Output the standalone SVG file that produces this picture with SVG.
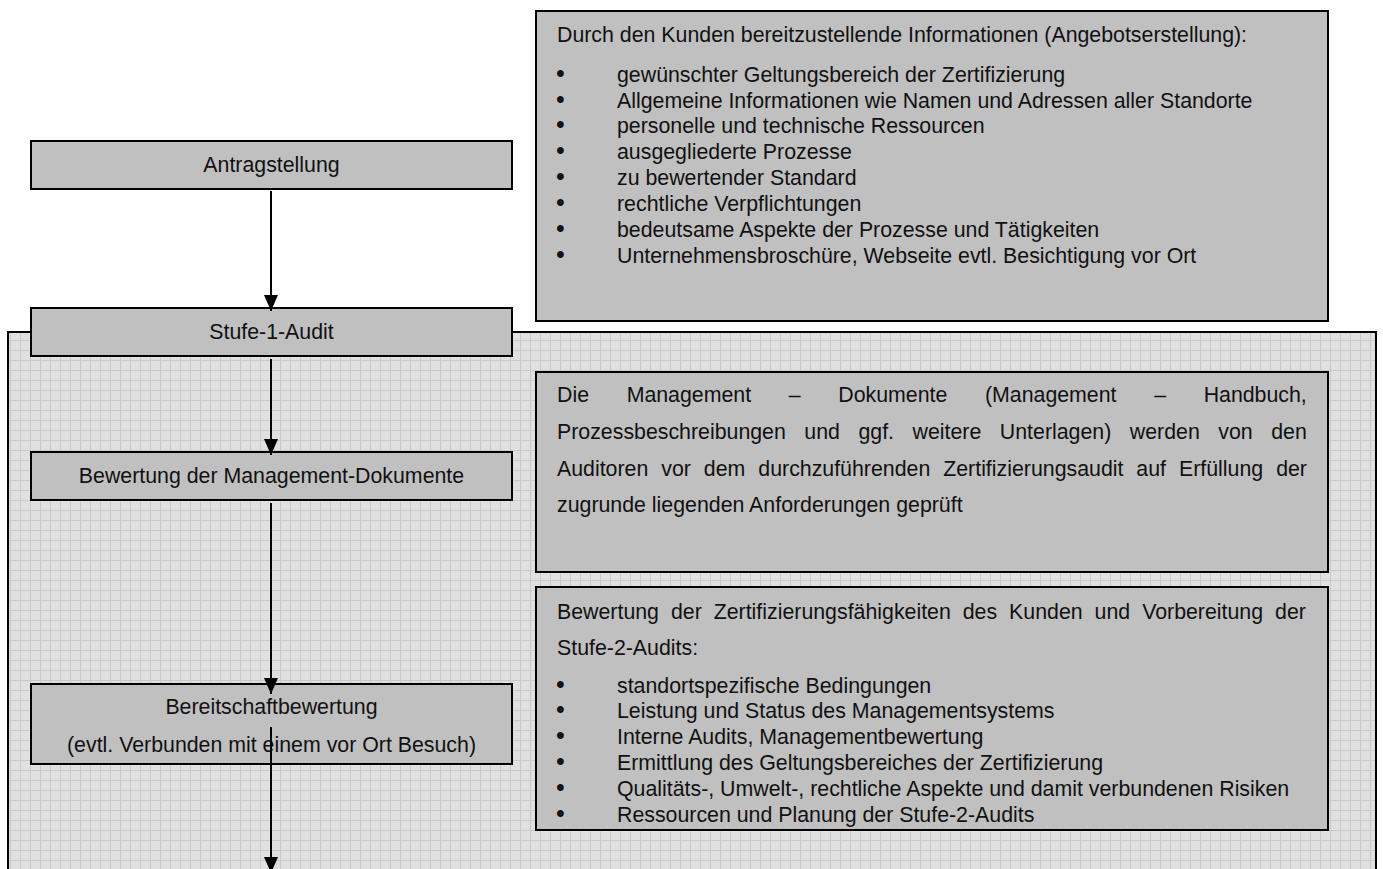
<svg xmlns="http://www.w3.org/2000/svg" width="1383" height="869" viewBox="0 0 1383 869">
<defs>
<style>
.box{fill:#c0c0c0;stroke:#000;stroke-width:2}
.t{font-family:"Liberation Sans",Arial,Helvetica,sans-serif;font-size:21.33px;fill:#111}
.c{text-anchor:middle}
.b{font-size:25px}
.conn{stroke:#000;stroke-width:2;fill:none;marker-end:url(#ah)}
</style>
<pattern id="grid" width="10" height="10" patternUnits="userSpaceOnUse">
<rect width="10" height="10" fill="#e0e0e0"/>
<path d="M0,0.5H10M0.5,0V10" stroke="#c9c9c9" stroke-width="1"/>
</pattern>
<marker id="ah" viewBox="0 0 16 14" refX="16" refY="7" markerWidth="16" markerHeight="14" markerUnits="userSpaceOnUse" orient="auto">
<path d="M0,0L16,7L0,14z" fill="#000"/>
</marker>
</defs>
<rect width="1383" height="869" fill="#fff"/>

<g id="panel">
<rect x="8" y="332" width="1368" height="560" fill="url(#grid)" stroke="#000" stroke-width="2"/>
</g>

<g id="info-kunde">
<rect class="box" x="536" y="11" width="792" height="310"/>
<text class="t" x="557" y="41.7">Durch den Kunden bereitzustellende Informationen (Angebotserstellung):</text>
<text class="t" y="81.7"><tspan class="b" x="556">•</tspan><tspan x="617">gewünschter Geltungsbereich der Zertifizierung</tspan></text>
<text class="t" y="107.5"><tspan class="b" x="556">•</tspan><tspan x="617">Allgemeine Informationen wie Namen und Adressen aller Standorte</tspan></text>
<text class="t" y="133.4"><tspan class="b" x="556">•</tspan><tspan x="617">personelle und technische Ressourcen</tspan></text>
<text class="t" y="159.2"><tspan class="b" x="556">•</tspan><tspan x="617">ausgegliederte Prozesse</tspan></text>
<text class="t" y="185.1"><tspan class="b" x="556">•</tspan><tspan x="617">zu bewertender Standard</tspan></text>
<text class="t" y="210.9"><tspan class="b" x="556">•</tspan><tspan x="617">rechtliche Verpflichtungen</tspan></text>
<text class="t" y="236.8"><tspan class="b" x="556">•</tspan><tspan x="617">bedeutsame Aspekte der Prozesse und Tätigkeiten</tspan></text>
<text class="t" y="262.6"><tspan class="b" x="556">•</tspan><tspan x="617">Unternehmensbroschüre, Webseite evtl. Besichtigung vor Ort</tspan></text>
</g>

<g id="antragstellung">
<rect class="box" x="31" y="141" width="481" height="48"/>
<text class="t c" x="271.5" y="172">Antragstellung</text>
</g>

<g id="stufe1">
<rect class="box" x="31" y="308" width="481" height="48"/>
<text class="t c" x="271.5" y="339">Stufe-1-Audit</text>
</g>

<g id="bewertung-doku">
<rect class="box" x="31" y="452" width="481" height="48"/>
<text class="t c" x="271.5" y="483">Bewertung der Management-Dokumente</text>
</g>

<g id="info-doku">
<rect class="box" x="536" y="372" width="792" height="200"/>
<text class="t" x="557" y="402.3" word-spacing="31.7">Die Management – Dokumente (Management – Handbuch,</text>
<text class="t" x="557" y="439" word-spacing="12.6">Prozessbeschreibungen und ggf. weitere Unterlagen) werden von den</text>
<text class="t" x="557" y="475.7" word-spacing="7.04">Auditoren vor dem durchzuführenden Zertifizierungsaudit auf Erfüllung der</text>
<text class="t" x="557" y="512.4">zugrunde liegenden Anforderungen geprüft</text>
</g>

<g id="info-bereitschaft">
<rect class="box" x="536" y="587" width="792" height="243"/>
<text class="t" x="557" y="619.3" word-spacing="6.03">Bewertung der Zertifizierungsfähigkeiten des Kunden und Vorbereitung der</text>
<text class="t" x="557" y="654.5">Stufe-2-Audits:</text>
<text class="t" y="692.5"><tspan class="b" x="556">•</tspan><tspan x="617">standortspezifische Bedingungen</tspan></text>
<text class="t" y="718.3"><tspan class="b" x="556">•</tspan><tspan x="617">Leistung und Status des Managementsystems</tspan></text>
<text class="t" y="744.2"><tspan class="b" x="556">•</tspan><tspan x="617">Interne Audits, Managementbewertung</tspan></text>
<text class="t" y="770"><tspan class="b" x="556">•</tspan><tspan x="617">Ermittlung des Geltungsbereiches der Zertifizierung</tspan></text>
<text class="t" y="795.9"><tspan class="b" x="556">•</tspan><tspan x="617">Qualitäts-, Umwelt-, rechtliche Aspekte und damit verbundenen Risiken</tspan></text>
<text class="t" y="821.8"><tspan class="b" x="556">•</tspan><tspan x="617">Ressourcen und Planung der Stufe-2-Audits</tspan></text>
</g>

<g id="bereitschaft">
<rect class="box" x="31" y="684" width="481" height="80"/>
<text class="t c" x="271.5" y="714">Bereitschaftbewertung</text>
<text class="t c" x="271.5" y="752">(evtl. Verbunden mit einem vor Ort Besuch)</text>
</g>

<g id="connectors">
<line class="conn" x1="271" y1="191" x2="271" y2="311"/>
<line class="conn" x1="271" y1="359" x2="271" y2="455"/>
<line class="conn" x1="271" y1="503" x2="271" y2="694"/>
<line class="conn" x1="271" y1="727" x2="271" y2="873"/>
</g>
</svg>
